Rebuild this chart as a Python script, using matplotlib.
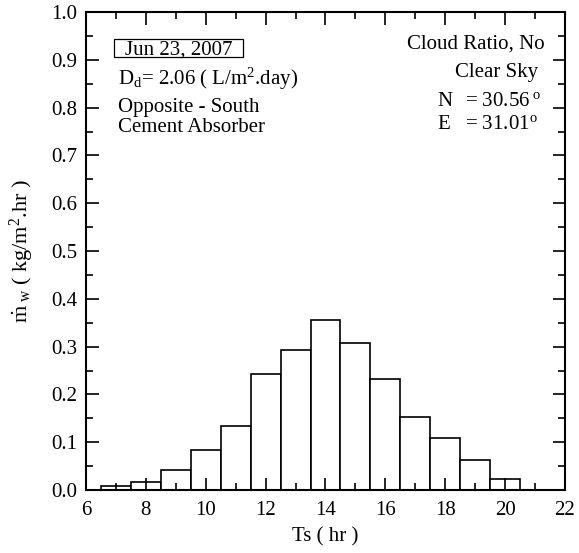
import matplotlib
matplotlib.use("Agg")
import matplotlib.pyplot as plt
from matplotlib.patches import Rectangle
from matplotlib.ticker import MultipleLocator

# hourly water productivity, bars centred on the hour
hours = [7, 8, 9, 10, 11, 12, 13, 14, 15, 16, 17, 18, 19, 20]
m_w = [0.008, 0.017, 0.042, 0.084, 0.133, 0.243, 0.293,
       0.355, 0.307, 0.233, 0.153, 0.108, 0.062, 0.024]

x_ticks = [6, 8, 10, 12, 14, 16, 18, 20, 22]
y_ticks = [0.0, 0.1, 0.2, 0.3, 0.4, 0.5, 0.6, 0.7, 0.8, 0.9, 1.0]

plt.rcParams['font.family'] = ['Liberation Serif', 'DejaVu Serif']
plt.rcParams['mathtext.fontset'] = 'custom'
plt.rcParams['mathtext.rm'] = 'Liberation Serif'
plt.rcParams['mathtext.it'] = 'Liberation Serif:italic'

fig = plt.figure(figsize=(5.79, 5.53), dpi=100)
ax = fig.add_axes([0.1485, 0.1139, 0.8273, 0.8644])

ax.bar(hours, m_w, width=1.0, color='white', edgecolor='black', linewidth=1.2)

ax.set_xlim(6, 22)
ax.set_ylim(0, 1.0)
ax.set_xticks(x_ticks)
ax.set_yticks(y_ticks)
ax.set_yticklabels([f"{v:.1f}" for v in y_ticks])
ax.xaxis.set_minor_locator(MultipleLocator(1))
ax.yaxis.set_minor_locator(MultipleLocator(0.05))
ax.tick_params(which='both', direction='in', top=True, right=True, width=1.2)
ax.tick_params(which='major', length=9, labelsize=15)
ax.tick_params(axis='y', which='major', pad=6)
ax.tick_params(axis='x', which='major', pad=8)
ax.tick_params(which='minor', length=5)
for s in ax.spines.values():
    s.set_linewidth(1.5)

ax.set_xlabel('Ts ( hr )', fontsize=15, labelpad=5)
ax.set_ylabel(r'$\mathrm{\dot{m}}_{\ \mathrm{w}}$ ( kg/m$^2$.hr )', fontsize=16, labelpad=11)

fs = 15
# date label with its frame
ax.add_patch(Rectangle((0.0585, 0.9059), 0.2693, 0.0376, transform=ax.transAxes,
                       facecolor='none', edgecolor='black', linewidth=0.9))
ax.text(0.0814, 0.912, 'Jun 23, 2007', transform=ax.transAxes, fontsize=fs,
        va='baseline', ha='left')
ax.text(0.0668, 0.8473, r'D$_\mathrm{d}$= 2.06 ( L/m$^2$.day)', transform=ax.transAxes,
        fontsize=fs, va='baseline', ha='left')
ax.text(0.0668, 0.7914, 'Opposite - South', transform=ax.transAxes, fontsize=fs,
        va='baseline', ha='left')
ax.text(0.0668, 0.7496, 'Cement Absorber', transform=ax.transAxes, fontsize=fs,
        va='baseline', ha='left')

ax.text(0.9582, 0.924, 'Cloud Ratio, No', transform=ax.transAxes, fontsize=fs,
        va='baseline', ha='right')
ax.text(0.9436, 0.8646, 'Clear Sky', transform=ax.transAxes, fontsize=fs,
        va='baseline', ha='right')
ax.text(0.7328, 0.8033, 'N', transform=ax.transAxes, fontsize=fs, va='baseline', ha='left')
ax.text(0.7912, 0.8033, r'= 30.56$^{\ \mathrm{o}}$', transform=ax.transAxes, fontsize=fs,
        va='baseline', ha='left')
ax.text(0.7328, 0.7546, 'E', transform=ax.transAxes, fontsize=fs, va='baseline', ha='left')
ax.text(0.7912, 0.7546, r'= 31.01$^{\mathrm{o}}$', transform=ax.transAxes, fontsize=fs,
        va='baseline', ha='left')

fig.savefig('out.png', dpi=100)
